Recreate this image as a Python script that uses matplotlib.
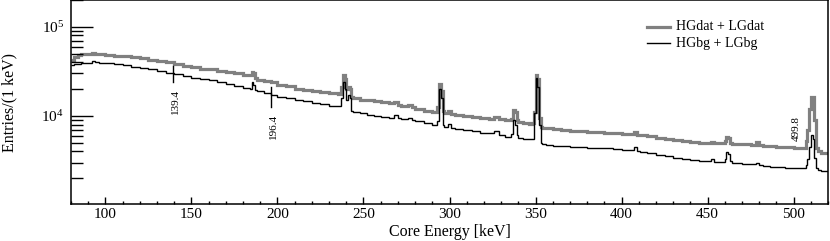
import matplotlib
matplotlib.use("Agg")
import matplotlib.pyplot as plt
from matplotlib.ticker import FixedLocator, LogLocator, NullFormatter, MultipleLocator

plt.rcParams['font.family'] = ['Liberation Serif', 'DejaVu Serif']
plt.rcParams['mathtext.fontset'] = 'stix'

# bin edges (keV)
edges = [80, 82, 84, 86, 88, 90, 92, 94, 96, 100, 105, 110, 115, 120, 125, 130, 135, 140,
         145, 150, 155, 160, 165, 170, 175, 180, 184, 185, 186, 187, 188, 192, 196, 200,
         205, 210, 215, 220, 225, 230, 235, 237, 238, 239, 240, 241, 242, 243, 244, 248,
         252, 256, 260, 265, 268, 270, 272, 276, 278, 280, 285, 290, 293, 294, 295, 296,
         297, 299, 301, 303, 308, 313, 318, 323, 326, 329, 332, 336, 337, 338, 339, 340,
         343, 346, 348, 349, 350, 351, 352, 353, 354, 356, 360, 365, 370, 375, 380, 385,
         390, 395, 400, 405, 407, 409, 411, 415, 420, 425, 430, 435, 440, 445, 450, 452,
         454, 458, 460, 461, 462, 463, 464, 466, 470, 475, 478, 480, 482, 486, 490, 495,
         500, 505, 507, 508, 509, 510, 511, 512, 513, 514, 516, 520]

# HGdat + LGdat (counts per keV)
dat = [42000, 46000, 48000, 49000, 49500, 50000, 51000, 50000, 49000, 48500, 47500, 46500,
       45500, 44300, 43000, 41500, 40000, 38500, 36500, 35000, 34000, 33300, 32000, 31000,
       30000, 29000, 28500, 31000, 30000, 26500, 25500, 24800, 24000, 22500, 21500, 20200,
       19500, 19000, 18500, 18000, 17600, 21000, 29000, 26000, 20000, 21000, 20000, 16500,
       15800, 15300, 15000, 14600, 14300, 13900, 14200, 13400, 13100, 13400, 12700, 12000,
       11500, 11000, 12500, 23000, 19000, 11500, 10700, 11300, 10600, 10300, 10000, 9700,
       9400, 9300, 9800, 9200, 9000, 9300, 11700, 11000, 9000, 8500, 8300, 8200, 8300,
       11000, 29000, 26000, 9500, 7500, 7300, 7250, 7100, 7000, 6850, 6750, 6650, 6550,
       6500, 6400, 6300, 6250, 6600, 6150, 6100, 5900, 5700, 5500, 5350, 5200, 5100, 5000,
       5000, 5050, 4950, 4950, 5200, 5800, 5600, 5000, 4900, 4850, 4800, 4750, 5100, 4750,
       4650, 4550, 4500, 4450, 4420, 4400, 5200, 7000, 12000, 16200, 16200, 9000, 4400,
       4000, 3850]

# HGbg + LGbg (counts per keV)
bg = [37000, 38000, 38500, 39000, 39000, 39500, 41500, 40000, 39500, 38800, 38000, 37000,
      35800, 34500, 33300, 32000, 30500, 29300, 28000, 27000, 26200, 25300, 24000, 22800,
      21700, 20600, 20200, 24200, 22000, 19500, 19200, 18000, 17200, 16500, 15900, 15100,
      14600, 14100, 13600, 13100, 12800, 16000, 23800, 20000, 15000, 17200, 16000, 11500,
      11200, 10700, 10300, 10000, 9800, 9500, 10300, 9400, 9200, 9600, 9000, 8700, 8300,
      7900, 8800, 20000, 16000, 8000, 7500, 8200, 7300, 7100, 6900, 6700, 6500, 6400, 6850,
      6200, 5800, 6300, 9000, 8000, 6200, 5600, 5500, 5450, 5500, 10700, 26400, 21000,
      8000, 5000, 4800, 4730, 4650, 4600, 4530, 4470, 4420, 4370, 4340, 4300, 4200, 4150,
      4450, 4000, 3950, 3800, 3650, 3550, 3400, 3300, 3220, 3150, 3100, 3300, 3080, 3050,
      3300, 3980, 3700, 3100, 2980, 2950, 2900, 2880, 3000, 2850, 2750, 2700, 2650, 2620,
      2600, 2580, 2800, 3300, 4500, 6100, 5500, 3400, 2600, 2500, 2420]

# peak annotations: energy, tick bottom, tick top, label y
ann_E = [139.4, 196.4, 499.8]
ann_lo = [24000, 12600, None]
ann_hi = [36300, 21100, None]
ann_ly = [14500, 7600, 7200]
ann_txt = ["139.4", "196.4", "499.8"]

xticks = [100, 150, 200, 250, 300, 350, 400, 450, 500]

fig = plt.figure(figsize=(8.3, 2.41), dpi=100)
ax = fig.add_axes([71/830, 37/241, 757/830, 204/241])

ax.stairs(dat, edges, color='#808080', lw=2.3, baseline=None)
ax.stairs(bg, edges, color='black', lw=1.0, baseline=None)

ax.set_yscale('log')
ax.set_xlim(80, 520)
ax.set_ylim(1030, 2e5)

for E, lo, hi, ly, t in zip(ann_E, ann_lo, ann_hi, ann_ly, ann_txt):
    if lo is not None:
        ax.plot([E, E], [lo, hi], color='black', lw=1.0)
    ax.text(E + 1.5, ly, t, rotation=90, ha='center', va='center', fontsize=8)

ax.xaxis.set_major_locator(FixedLocator(xticks))
ax.xaxis.set_minor_locator(MultipleLocator(10))
ax.yaxis.set_major_locator(LogLocator(base=10, numticks=10))
ax.yaxis.set_minor_locator(LogLocator(base=10, subs=range(2, 10), numticks=20))
ax.yaxis.set_minor_formatter(NullFormatter())

ax.tick_params(axis='x', which='major', direction='in', length=5, width=1, labelsize=11, pad=3)
ax.tick_params(axis='x', which='minor', direction='in', length=2.5, width=1)
ax.tick_params(axis='y', which='major', direction='in', length=16, width=1, labelsize=11, pad=5)
ax.tick_params(axis='y', which='minor', direction='in', length=8.5, width=1)
for s in ax.spines.values():
    s.set_linewidth(1.1)

ax.set_xlabel('Core Energy [keV]', fontsize=11.5, labelpad=2)
ax.set_ylabel('Entries/(1 keV)', fontsize=11.5)
ax.yaxis.set_label_coords(-54/757, 0.5)

# legend
leg = [("HGdat + LGdat", '#808080', 2.3, 0.868), ("HGbg + LGbg", 'black', 1.0, 0.789)]
for txt, c, lw, yy in leg:
    ax.plot([0.761, 0.791], [yy, yy], color=c, lw=lw, transform=ax.transAxes)
    ax.text(0.799, yy, txt, transform=ax.transAxes, va='center', ha='left', fontsize=10)

fig.savefig('out.png', dpi=100)
